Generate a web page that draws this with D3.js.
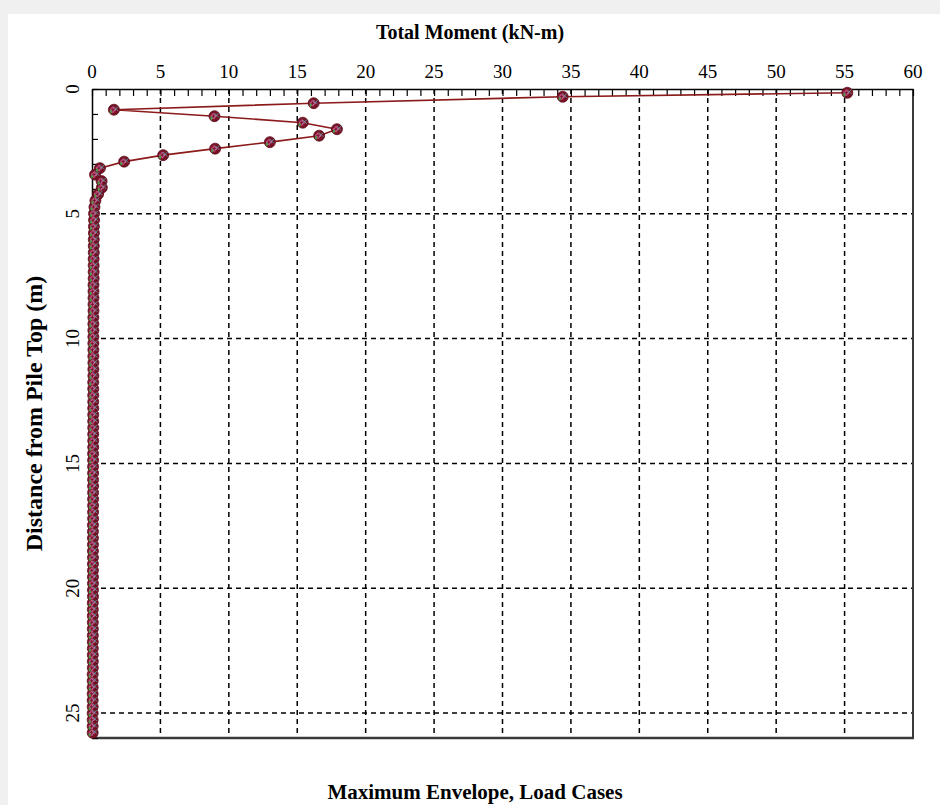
<!DOCTYPE html>
<html>
<head>
<meta charset="utf-8">
<script src="https://cdn.jsdelivr.net/npm/d3@7/dist/d3.min.js"></script>
<style>
  html, body { margin: 0; padding: 0; background: #f0f0f0; }
  svg { display: block; }
  text { font-family: "Liberation Serif", "Times New Roman", serif; fill: #000; }
</style>
</head>
<body>
<svg id="chart" width="940" height="805"></svg>
<script>
// ---- Data ----
const chartTitle = "Total Moment (kN-m)";
const yAxisTitle = "Distance from Pile Top (m)";
const bottomNote = "Maximum Envelope, Load Cases";

const xTicks = [0, 5, 10, 15, 20, 25, 30, 35, 40, 45, 50, 55, 60];
const yTicks = [0, 5, 10, 15, 20, 25];

// depth below pile top (m)
const depth = [
  0.15, 0.31, 0.57, 0.83, 1.09, 1.35, 1.61, 1.87, 2.13, 2.39,
  2.65, 2.91, 3.17, 3.43, 3.69, 3.95, 4.21, 4.47, 4.73, 4.99,
  5.25, 5.51, 5.77, 6.03, 6.29, 6.55, 6.81, 7.07, 7.33, 7.59,
  7.85, 8.11, 8.37, 8.63, 8.89, 9.15, 9.41, 9.67, 9.93, 10.19,
  10.45, 10.71, 10.97, 11.23, 11.49, 11.75, 12.01, 12.27, 12.53, 12.79,
  13.05, 13.31, 13.57, 13.83, 14.09, 14.35, 14.61, 14.87, 15.13, 15.39,
  15.65, 15.91, 16.17, 16.43, 16.69, 16.95, 17.21, 17.47, 17.73, 17.99,
  18.25, 18.51, 18.77, 19.03, 19.29, 19.55, 19.81, 20.07, 20.33, 20.59,
  20.85, 21.11, 21.37, 21.63, 21.89, 22.15, 22.41, 22.67, 22.93, 23.19,
  23.45, 23.71, 23.97, 24.23, 24.49, 24.75, 25.01, 25.27, 25.53, 25.79
];
// maximum envelope total moment (kN-m)
const moment = [
  55.2, 34.4, 16.2, 1.6, 8.95, 15.4, 17.9, 16.6, 13.0, 9.0,
  5.2, 2.35, 0.58, 0.22, 0.7, 0.72, 0.45, 0.25, 0.18, 0.15,
  0.15, 0.14, 0.14, 0.13, 0.13, 0.13, 0.12, 0.12, 0.12, 0.12,
  0.11, 0.11, 0.11, 0.11, 0.11, 0.1, 0.1, 0.1, 0.1, 0.1,
  0.1, 0.1, 0.1, 0.1, 0.1, 0.09, 0.09, 0.09, 0.09, 0.09,
  0.09, 0.09, 0.09, 0.09, 0.09, 0.09, 0.08, 0.08, 0.08, 0.08,
  0.08, 0.08, 0.08, 0.08, 0.08, 0.08, 0.08, 0.07, 0.07, 0.07,
  0.07, 0.07, 0.07, 0.07, 0.07, 0.07, 0.07, 0.07, 0.07, 0.06,
  0.06, 0.06, 0.06, 0.06, 0.06, 0.06, 0.06, 0.06, 0.06, 0.06,
  0.05, 0.05, 0.05, 0.05, 0.05, 0.05, 0.05, 0.05, 0.05, 0.05
];

const points = depth.map((d, i) => ({ d: d, m: moment[i] }));

// ---- Layout ----
const svg = d3.select("#chart");
const W = 940, H = 805;
const plot = { left: 92, right: 913, top: 89, bottom: 738 };

svg.append("rect").attr("x", 0).attr("y", 0).attr("width", W).attr("height", H).attr("fill", "#f0f0f0");
svg.append("rect").attr("x", 8).attr("y", 14).attr("width", W - 8).attr("height", H - 14).attr("fill", "#ffffff");

const x = d3.scaleLinear().domain([0, 60]).range([plot.left, plot.right]);
const y = d3.scaleLinear().domain([0, 26]).range([plot.top, plot.bottom]);

// grid lines
const grid = svg.append("g").attr("class", "grid");
grid.selectAll("line.vg").data(xTicks.filter(t => t > 0 && t < 60)).enter().append("line")
  .attr("x1", d => x(d)).attr("x2", d => x(d))
  .attr("y1", plot.top).attr("y2", plot.bottom)
  .attr("stroke", "#000").attr("stroke-width", 1.5).attr("stroke-dasharray", "5,4");
grid.selectAll("line.hg").data(yTicks.filter(t => t > 0)).enter().append("line")
  .attr("x1", plot.left).attr("x2", plot.right)
  .attr("y1", d => y(d)).attr("y2", d => y(d))
  .attr("stroke", "#000").attr("stroke-width", 1.5).attr("stroke-dasharray", "5,4");

// frame: right & bottom darker/thicker
svg.append("line").attr("x1", plot.right).attr("x2", plot.right).attr("y1", plot.top).attr("y2", plot.bottom + 1)
  .attr("stroke", "#3a3a3a").attr("stroke-width", 2);
svg.append("line").attr("x1", plot.left).attr("x2", plot.right + 1).attr("y1", plot.bottom).attr("y2", plot.bottom)
  .attr("stroke", "#3a3a3a").attr("stroke-width", 2.5);

// top axis (ticks inward)
const xAxis = d3.axisTop(x).tickValues(d3.range(0, 61, 1)).tickSizeInner(-7).tickSizeOuter(0).tickFormat("");
const gx = svg.append("g").attr("transform", `translate(0,${plot.top})`).call(xAxis);
gx.select(".domain").attr("stroke", "#000").attr("stroke-width", 1.5);
gx.selectAll(".tick line").attr("stroke", "#000").attr("stroke-width", 1.2);

svg.append("g").selectAll("text").data(xTicks).enter().append("text")
  .attr("x", d => x(d)).attr("y", 78)
  .attr("text-anchor", "middle").attr("font-size", 19)
  .text(d => d);

// left axis (ticks inward)
const yAxis = d3.axisLeft(y).tickValues(d3.range(0, 27, 1)).tickSizeInner(-6).tickSizeOuter(0).tickFormat("");
const gy = svg.append("g").attr("transform", `translate(${plot.left},0)`).call(yAxis);
gy.select(".domain").attr("stroke", "#000").attr("stroke-width", 1.5);
gy.selectAll(".tick line").attr("stroke", "#000").attr("stroke-width", 1.2);

svg.append("g").selectAll("text").data(yTicks).enter().append("text")
  .attr("transform", d => `translate(79,${y(d)}) rotate(-90)`)
  .attr("text-anchor", "middle").attr("font-size", 19)
  .text(d => d);

// titles
svg.append("text").attr("x", 470).attr("y", 39).attr("text-anchor", "middle")
  .attr("font-size", 20).attr("font-weight", "bold").text(chartTitle);
svg.append("text").attr("transform", `translate(42,${(plot.top + plot.bottom) / 2}) rotate(-90)`)
  .attr("text-anchor", "middle").attr("font-size", 24).attr("font-weight", "bold").text(yAxisTitle);
svg.append("text").attr("x", 475).attr("y", 799).attr("text-anchor", "middle")
  .attr("font-size", 21).attr("font-weight", "bold").text(bottomNote);

// data line
const line = d3.line().x(p => x(p.m)).y(p => y(p.d));
svg.append("path").datum(points).attr("d", line)
  .attr("fill", "none").attr("stroke", "#8b1a1a").attr("stroke-width", 1.6);

// markers (overlapping load-case symbols)
const mk = svg.append("g");
mk.selectAll("circle").data(points).enter().append("circle")
  .attr("cx", p => x(p.m)).attr("cy", p => y(p.d)).attr("r", 5.5)
  .attr("fill", "#7a1226").attr("stroke", "#5a0d1c").attr("stroke-width", 0.8);
mk.selectAll("path.cx").data(points).enter().append("path").attr("class", "cx")
  .attr("transform", p => `translate(${x(p.m) + 2},${y(p.d) - 1})`)
  .attr("d", d3.symbol().type(d3.symbolTimes).size(14))
  .attr("fill", "none").attr("stroke", "#4cc0c0").attr("stroke-width", 0.7);
mk.selectAll("path.cp").data(points).enter().append("path").attr("class", "cp")
  .attr("transform", p => `translate(${x(p.m) - 1},${y(p.d)})`)
  .attr("d", d3.symbol().type(d3.symbolCross).size(14))
  .attr("fill", "none").attr("stroke", "#e070b0").attr("stroke-width", 0.7);
mk.selectAll("path.cd").data(points).enter().append("path").attr("class", "cd")
  .attr("transform", p => `translate(${x(p.m) - 3},${y(p.d) + 2})`)
  .attr("d", d3.symbol().type(d3.symbolDiamond).size(6))
  .attr("fill", "#4a9a4a");
</script>
</body>
</html>
